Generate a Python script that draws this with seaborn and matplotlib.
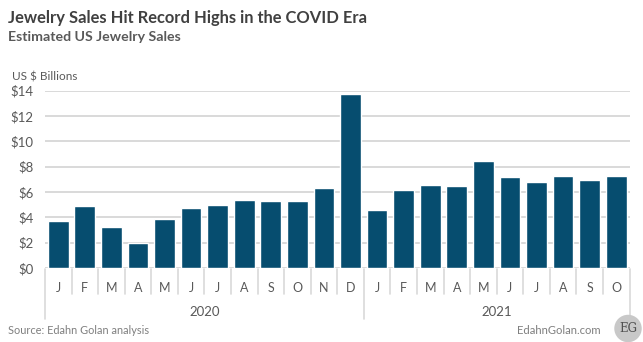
import matplotlib
matplotlib.use("Agg")
import matplotlib.pyplot as plt
import matplotlib.transforms as mtransforms
import seaborn as sns
import pandas as pd

# ---- data ----
months = ["J", "F", "M", "A", "M", "J", "J", "A", "S", "O", "N", "D",
          "J", "F", "M", "A", "M", "J", "J", "A", "S", "O"]
years = ["2020"] * 12 + ["2021"] * 10
sales = [3.7, 4.9, 3.2, 1.95, 3.85, 4.7, 4.95, 5.35, 5.25, 5.25, 6.28, 13.7,
         4.6, 6.17, 6.55, 6.45, 8.42, 7.18, 6.75, 7.28, 6.97, 7.24]
yticks = [0, 2, 4, 6, 8, 10, 12, 14]
title = "Jewelry Sales Hit Record Highs in the COVID Era"
subtitle = "Estimated US Jewelry Sales"
unit_label = "US $ Billions"
source = "Source: Edahn Golan analysis"
site = "EdahnGolan.com"

df = pd.DataFrame({"idx": list(range(len(sales))), "month": months,
                   "year": years, "sales": sales})

sns.set_theme(style="white")
plt.rcParams["font.family"] = ["Lato", "DejaVu Sans"]

W, H = 643, 342
fig = plt.figure(figsize=(W / 100, H / 100), dpi=100)
left, right, bottom, top = 45, 629.5, 268, 90.5
ax = fig.add_axes([left / W, 1 - bottom / H, (right - left) / W, (bottom - top) / H])

BAR = "#064d6f"
GRID = "#d9d9d9"
TXT = "#595959"

sns.barplot(data=df, x="idx", y="sales", color=BAR, saturation=1,
            width=0.78, ax=ax, zorder=3)

ax.set_xlim(-0.5, len(sales) - 0.5)
ax.set_ylim(0, 14)
ax.set_yticks(yticks)
ax.set_yticklabels([f"${v}" for v in yticks], fontsize=9.5, color=TXT)
ax.set_xticks(range(len(months)))
ax.set_xticklabels(months, fontsize=9, color=TXT)
ax.tick_params(axis="x", length=0, pad=10)
ax.tick_params(axis="y", length=0, pad=8)
ax.set_xlabel("")
ax.set_ylabel("")
for s in ax.spines.values():
    s.set_visible(False)
ax.yaxis.grid(True, color=GRID, linewidth=1.4, zorder=0)
ax.set_axisbelow(True)

# category separators
trans = mtransforms.blended_transform_factory(ax.transData, fig.transFigure)
y0 = 1 - 269 / H
y_month = 1 - 294 / H
y_year = 1 - 319 / H
n = len(sales)
for k in range(n + 1):
    xk = k - 0.5
    is_year_edge = k == 0 or k == n or years[k - 1] != years[min(k, n - 1)]
    y1 = y_year if is_year_edge else y_month
    if k == n:
        y1 = 1 - 320 / H
    ax.plot([xk, xk], [y0, y1], color=GRID, linewidth=1.2,
            transform=trans, clip_on=False, zorder=1)

# year labels
for yr in sorted(set(years)):
    ids = [i for i, y in enumerate(years) if y == yr]
    xc = (ids[0] + ids[-1]) / 2
    ax.text(xc, 1 - 312 / H, yr, transform=trans, ha="center", va="center",
            fontsize=9.5, color=TXT)

# titles and notes
fig.text(8 / W, 1 - 23.5 / H, title, fontsize=11.9, fontweight="bold",
         color="#404040", va="baseline", ha="left")
fig.text(8 / W, 1 - 41 / H, subtitle, fontsize=10.2, fontweight="bold",
         color="#595959", va="baseline", ha="left")
fig.text(12 / W, 1 - 81 / H, unit_label, fontsize=8.5, color=TXT,
         va="baseline", ha="left")
fig.text(8 / W, 1 - 330 / H, source, fontsize=7.9, color="#7f7f7f",
         va="center", ha="left")
fig.text(601 / W, 1 - 330 / H, site, fontsize=8.1, color="#7f7f7f",
         va="center", ha="right")

# EG logo
fig.text(628 / W, 1 - 328.5 / H, "EG", fontsize=8.5, family="DejaVu Serif",
         color="#505050", ha="center", va="center", zorder=6,
         bbox=dict(boxstyle="circle,pad=0.4", facecolor="#c8c8c8",
                   edgecolor="none"))

fig.savefig("out.png", dpi=100)
